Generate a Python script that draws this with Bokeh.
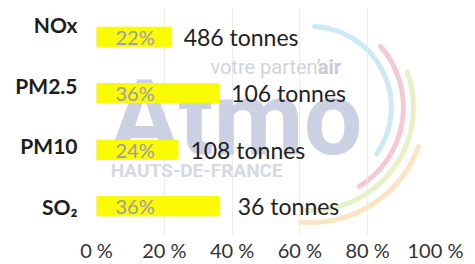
from bokeh.plotting import figure
from bokeh.models import Range1d, LinearAxis, FixedTicker, ColumnDataSource, Label
from bokeh.embed import file_html
from bokeh.resources import INLINE
from bokeh.core.properties import value

# ---- data ----
pollutants = ["NOx", "PM2.5", "PM10", "SO₂"]
shares = [22, 36, 24, 36]          # % share
tonnes = [486, 106, 108, 36]       # tonnes
x_ticks = [0, 20, 40, 60, 80, 100]
x_tick_labels = ["0 %", "20 %", "40 %", "60 %", "80 %", "100 %"]

pos = [i + 0.5 for i in range(len(pollutants))]
src = ColumnDataSource(dict(
    y=pos,
    share=shares,
    pct=[f"{s}%" for s in shares],
    ton=[f"{t} tonnes" for t in tonnes],
))

p = figure(width=475, height=264, output_backend="svg", toolbar_location=None,
           x_range=Range1d(0, 100), y_range=Range1d(len(pollutants), 0),
           y_axis_location=None,
           min_border_left=96, min_border_right=40, min_border_top=8, min_border_bottom=0)
p.outline_line_color = None
p.background_fill_color = "white"
p.border_fill_color = "white"

# ---- watermark (background logo, decoration only) ----
wm = dict(x_units="data", y_units="data", level="underlay", text_baseline="alphabetic")
p.add_layout(Label(x=3.8, y=1.95, text="Atmo", text_font="Roboto", text_font_size="104px",
                   text_font_style="bold", text_color="#cbd1e3", **wm))
p.add_layout(Label(x=33.6, y=1.03, text="votre parten’", text_font="Roboto", text_font_size="20px",
                   text_color="#d2d3dc", **wm))
p.add_layout(Label(x=65.3, y=1.03, text="air", text_font="Roboto", text_font_size="20px",
                   text_font_style="bold", text_color="#c9cad6", **wm))
p.add_layout(Label(x=4.2, y=2.86, text="HAUTS-DE-FRANCE", text_font="Roboto", text_font_size="19px",
                   text_font_style="bold", text_color="#d6d9e3", **wm))
logo_arcs = dict(
    radius=[81, 93, 103, 115],
    start=[-35, -58, -94, -95],
    end=[87, 41, 20, -20],
    color=["#cdeaf4", "#f5c9d3", "#e6f2c6", "#fbe4c4"],
)
p.arc(x=63.1, y=1.75, radius=logo_arcs["radius"], radius_units="screen",
      start_angle=logo_arcs["start"], end_angle=logo_arcs["end"], start_angle_units="deg",
      end_angle_units="deg", line_color=logo_arcs["color"], line_width=5, line_cap="round",
      level="underlay")

# ---- bars & labels ----
p.hbar(y="y", left=0, right="share", height=0.34, color="#fafa00", source=src)

p.text(x=0, y="y", text="pct", source=src, x_offset=19, text_align="left", text_baseline="middle",
       text_font=value("Lato"), text_font_size="20px", text_color="#9c9aae")
p.text(x="share", y="y", text="ton", source=src, x_offset=70, text_align="center", text_baseline="middle",
       text_font=value("Lato"), text_font_size="23px", text_color="#222222")

# x axis
p.xaxis.ticker = FixedTicker(ticks=x_ticks)
p.xaxis.major_label_overrides = dict(zip(x_ticks, x_tick_labels))
p.xaxis.axis_line_color = None
p.xaxis.major_tick_line_color = None
p.xaxis.major_tick_out = 0
p.xaxis.major_tick_in = 0
p.xaxis.minor_tick_line_color = None
p.xaxis.axis_label_standoff = 0
p.xaxis.major_label_standoff = 3
p.xaxis.major_label_text_font = "Lato"
p.xaxis.major_label_text_font_size = "20px"
p.xaxis.major_label_text_color = "#333333"

p.xgrid.grid_line_color = "#ececec"
p.ygrid.visible = False

# category labels axis
p.extra_y_ranges = {"labels": Range1d(start=3.472, end=-0.273)}
yax = LinearAxis(y_range_name="labels", ticker=FixedTicker(ticks=list(range(len(pollutants)))),
                 major_label_overrides={i: n for i, n in enumerate(pollutants)})
yax.axis_line_color = None
yax.major_tick_line_color = None
yax.major_tick_out = 0
yax.major_tick_in = 0
yax.minor_tick_line_color = None
yax.major_label_standoff = 19
yax.major_label_text_font = "Lato"
yax.major_label_text_font_style = "bold"
yax.major_label_text_font_size = "21px"
yax.major_label_text_color = "#1d1d1d"
p.add_layout(yax, "left")

open("out.html", "w").write(file_html(p, INLINE))
